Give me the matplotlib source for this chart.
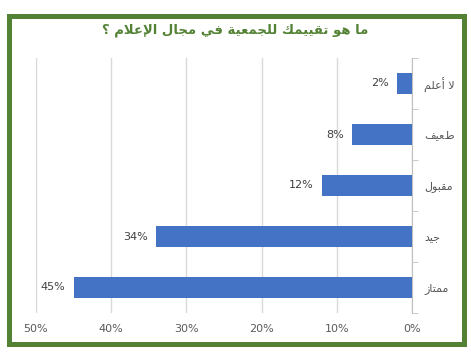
import matplotlib
matplotlib.use("Agg")
import matplotlib.pyplot as plt
from matplotlib.patches import Rectangle
from matplotlib.ticker import FixedLocator

title = "ما هو تقييمك للجمعية في مجال الإعلام ؟"
categories = ["ممتاز", "جيد", "مقبول", "ضعيف", "لا أعلم"]
values = [0.45, 0.34, 0.12, 0.08, 0.02]
xticks = [0, 0.1, 0.2, 0.3, 0.4, 0.5]

# matplotlib has no arabic shaping, so pick presentation forms by hand
FORMS = {
    'ا': (0xFE8D, 0xFE8E), 'أ': (0xFE83, 0xFE84), 'إ': (0xFE87, 0xFE88),
    'ة': (0xFE93, 0xFE94), 'د': (0xFEA9, 0xFEAA), 'ز': (0xFEAF, 0xFEB0),
    'و': (0xFEED, 0xFEEE),
    'ب': (0xFE8F, 0xFE90, 0xFE91, 0xFE92), 'ت': (0xFE95, 0xFE96, 0xFE97, 0xFE98),
    'ج': (0xFE9D, 0xFE9E, 0xFE9F, 0xFEA0), 'ض': (0xFEBF, 0xFEC0, 0xFEC1, 0xFEC2),
    'ع': (0xFEC9, 0xFECA, 0xFECB, 0xFECC), 'ف': (0xFED1, 0xFED2, 0xFED3, 0xFED4),
    'ق': (0xFED5, 0xFED6, 0xFED7, 0xFED8), 'ك': (0xFED9, 0xFEDA, 0xFEDB, 0xFEDC),
    'ل': (0xFEDD, 0xFEDE, 0xFEDF, 0xFEE0), 'م': (0xFEE1, 0xFEE2, 0xFEE3, 0xFEE4),
    'ه': (0xFEE9, 0xFEEA, 0xFEEB, 0xFEEC), 'ي': (0xFEF1, 0xFEF2, 0xFEF3, 0xFEF4),
}
LAM_ALEF = {'ا': (0xFEFB, 0xFEFC), 'أ': (0xFEF7, 0xFEF8), 'إ': (0xFEF9, 0xFEFA)}


def shape(text):
    toks = []
    i = 0
    while i < len(text):
        if text[i] == 'ل' and i + 1 < len(text) and text[i + 1] in LAM_ALEF:
            toks.append(('LA', text[i + 1]))
            i += 2
        else:
            toks.append(('C', text[i]))
            i += 1

    def arabic(t):
        return t[0] == 'LA' or t[1] in FORMS

    def dual(t):
        return t[0] == 'C' and t[1] in FORMS and len(FORMS[t[1]]) == 4

    out = []
    for k, t in enumerate(toks):
        prev = k > 0 and dual(toks[k - 1]) and arabic(t)
        nxt = dual(t) and k + 1 < len(toks) and arabic(toks[k + 1])
        if t[0] == 'LA':
            out.append(chr(LAM_ALEF[t[1]][1 if prev else 0]))
        elif t[1] in FORMS:
            f = FORMS[t[1]]
            if len(f) == 2:
                out.append(chr(f[1] if prev else f[0]))
            else:
                out.append(chr(f[{(False, False): 0, (True, False): 1,
                                  (False, True): 2, (True, True): 3}[(prev, nxt)]]))
        else:
            out.append(t[1])
    return ''.join(reversed(out))


fig = plt.figure(figsize=(4.71, 3.54), dpi=100)
ax = fig.add_axes([36 / 471, 1 - 313 / 354, 376 / 471, 255 / 354])

y = range(len(categories))
ax.barh(y, values, height=0.4, color='#4472C4', zorder=3)
for yi, v in zip(y, values):
    ax.annotate(f"{v:.0%}", (v, yi), xytext=(-6, 0), textcoords='offset points',
                ha='right', va='center', fontsize=8, color='#404040')

ax.set_xlim(0.5, 0)
ax.set_ylim(-0.5, len(categories) - 0.5)
ax.set_xticks(xticks, labels=[f"{t:.0%}" for t in xticks])
ax.set_yticks(list(y), labels=[shape(c) for c in categories])
ax.yaxis.set_minor_locator(FixedLocator([i - 0.5 for i in range(len(categories) + 1)]))
ax.yaxis.tick_right()
ax.tick_params(axis='y', which='major', length=0, pad=9, labelsize=8, labelcolor='#595959')
ax.tick_params(axis='y', which='minor', length=4, color='#bfbfbf', right=True, left=False)
ax.tick_params(axis='x', length=0, pad=8, labelsize=8, labelcolor='#595959')
ax.grid(axis='x', color='#d9d9d9', linewidth=1, zorder=0)
for s in ['left', 'top', 'bottom']:
    ax.spines[s].set_visible(False)
ax.spines['right'].set_color('#bfbfbf')

fig.text(0.5, 1 - 30 / 354, shape(title), ha='center', va='center',
         fontsize=9.5, fontweight='bold', color='#548235', family='DejaVu Sans')

fig.patches.append(Rectangle((8.5 / 471, 1 - 344 / 354), 455.5 / 471, 328 / 354,
                             transform=fig.transFigure, fill=False,
                             edgecolor='#548235', linewidth=3.6))

fig.savefig("out.png", dpi=100)
